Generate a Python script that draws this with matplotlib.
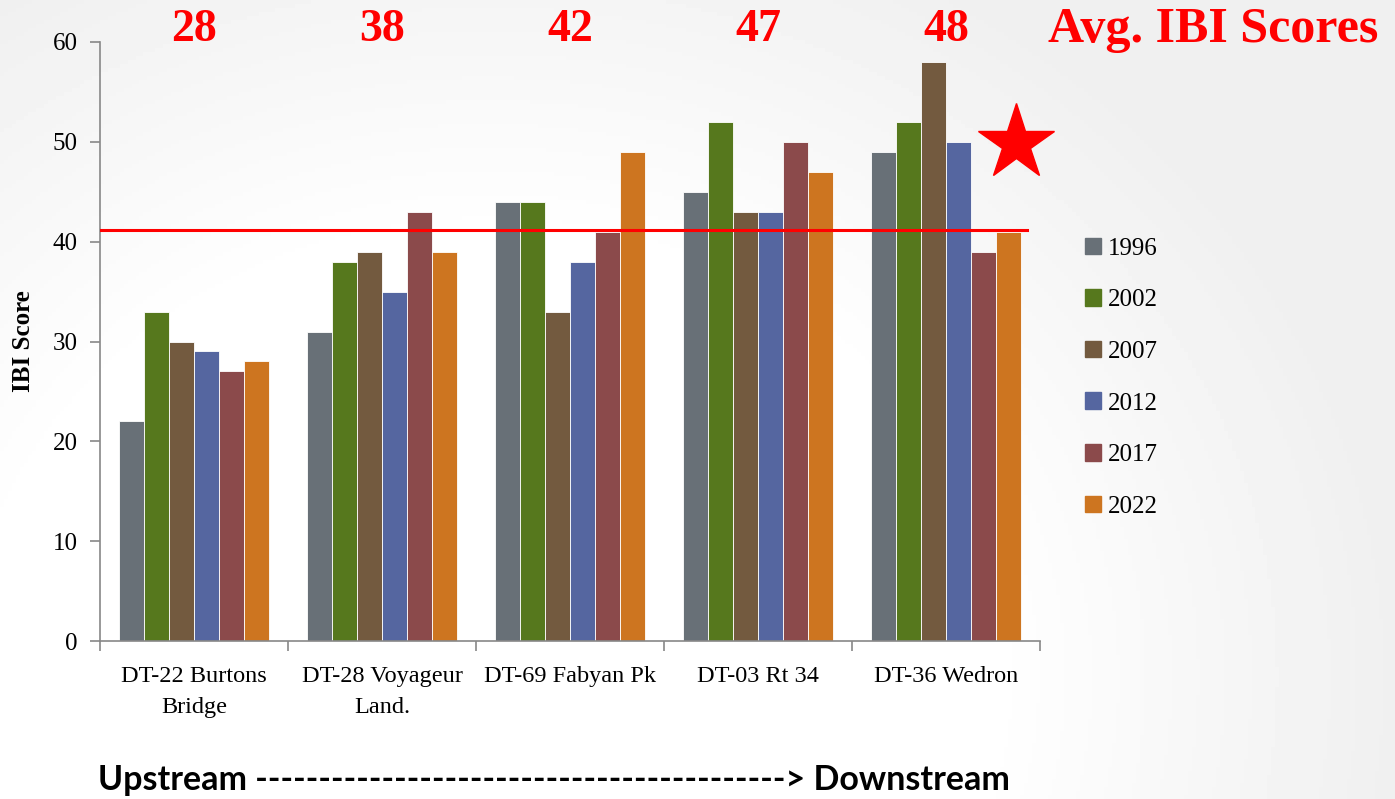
import numpy as np
import matplotlib.pyplot as plt
from matplotlib.patches import Rectangle

sites = ["DT-22 Burtons\nBridge", "DT-28 Voyageur\nLand.", "DT-69 Fabyan Pk",
         "DT-03 Rt 34", "DT-36 Wedron"]
years = ["1996", "2002", "2007", "2012", "2017", "2022"]
scores = {
    "1996": [22, 31, 44, 45, 49],
    "2002": [33, 38, 44, 52, 52],
    "2007": [30, 39, 33, 43, 58],
    "2012": [29, 35, 38, 43, 50],
    "2017": [27, 43, 41, 50, 39],
    "2022": [28, 39, 49, 47, 41],
}
avg_scores = [28, 38, 42, 47, 48]
threshold = 41.2
colors = ["#687077", "#56781d", "#735a3f", "#5566a0", "#8b4a4b", "#cd7520"]

serif = ["Liberation Serif", "DejaVu Serif"]
plt.rcParams["font.family"] = serif

fig = plt.figure(figsize=(13.95, 7.99), dpi=100)

# soft grey slide background, white toward the lower left, grey toward the edges
bg = fig.add_axes([0, 0, 1, 1], zorder=-10)
yy, xx = np.mgrid[0:1:200j, 0:1:350j]
d = np.hypot((xx - 0.35) / 0.65, (yy - 0.15) / 1.0)
shade = 1.0 - 0.06 * np.clip((d - 0.55) / 0.45, 0, 1)
bg.imshow(shade, cmap="gray", vmin=0, vmax=1, extent=[0, 1, 0, 1], aspect="auto",
          origin="lower")
bg.axis("off")

ax = fig.add_axes([100 / 1395, 1 - 641 / 799, 940 / 1395, 599 / 799])
ax.patch.set_alpha(0)

x = np.arange(len(sites))
width = 0.8 / len(years)
for i, (yr, c) in enumerate(zip(years, colors)):
    offs = (i - (len(years) - 1) / 2) * width
    ax.bar(x + offs, scores[yr], width, color=c, edgecolor="white", linewidth=0.6, label=yr)

ax.set_xlim(-0.5, len(sites) - 0.5)
ax.set_ylim(0, 60)
ax.set_yticks(range(0, 61, 10))
ax.set_xticks(x)
ax.set_xticklabels(sites, fontsize=17.5, linespacing=1.6)
ax.set_xticks(np.arange(-0.5, len(sites)), minor=True)
ax.tick_params(axis="x", which="major", length=0, pad=18)
ax.tick_params(axis="x", which="minor", length=7, color="#888888", width=1.2)
ax.tick_params(axis="y", labelsize=18, length=7, color="#888888", width=1.2, pad=9)
for s in ["top", "right"]:
    ax.spines[s].set_visible(False)
for s in ["left", "bottom"]:
    ax.spines[s].set_color("#888888")
    ax.spines[s].set_linewidth(1.2)
ax.set_ylabel("IBI Score", fontsize=18, fontweight="bold", labelpad=13)

ax.axhline(threshold, xmin=0, xmax=0.986, color="red", linewidth=2.2, zorder=3)

for xi, a in zip(x, avg_scores):
    fig.text((100 + (xi + 0.5) * 188) / 1395, 1 - 30 / 799, str(a), ha="center",
             va="center", color="red", fontsize=33, fontweight="bold")
fig.text(1213 / 1395, 1 - 30 / 799, "Avg. IBI Scores", ha="center", va="center",
         color="red", fontsize=36, fontweight="bold")

ax.plot([4.37], [49.9], marker="*", markersize=57, color="red", clip_on=False, zorder=4)

handles = [Rectangle((0, 0), 1, 1, color=c) for c in colors]
fig.legend(handles, years, loc="upper left", bbox_to_anchor=(1062 / 1395, 1 - 215 / 799),
           frameon=False, fontsize=18, handlelength=0.65, handleheight=0.65,
           handletextpad=0.3, labelspacing=1.18)

fig.text(98 / 1395, 1 - 780 / 799,
         "Upstream ------------------------------------------> Downstream",
         ha="left", va="center", fontsize=24.5, fontweight="bold",
         family=["Lato", "DejaVu Sans"])

fig.savefig("out.png", dpi=100)
